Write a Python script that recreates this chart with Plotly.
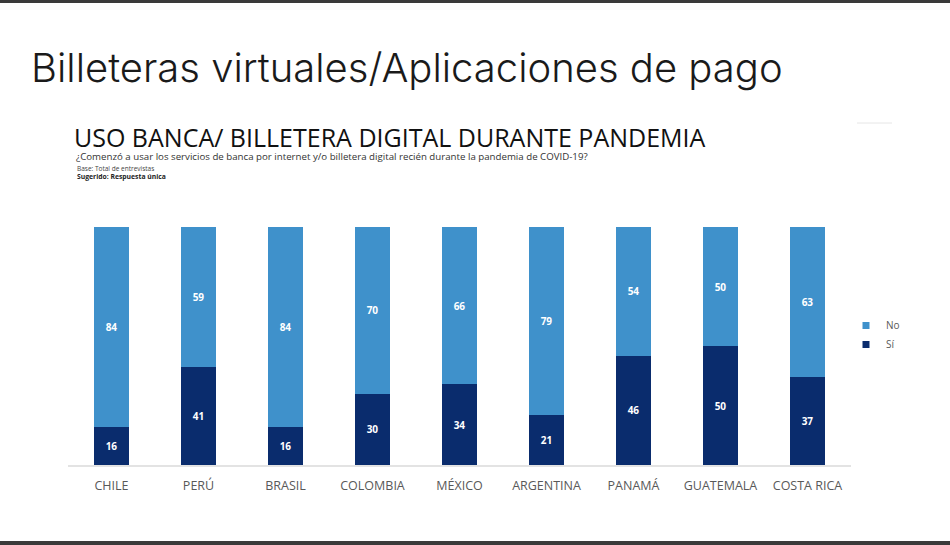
import plotly.graph_objects as go

countries = ["CHILE", "PERÚ", "BRASIL", "COLOMBIA", "MÉXICO", "ARGENTINA", "PANAMÁ", "GUATEMALA", "COSTA RICA"]
si_values = [16, 41, 16, 30, 34, 21, 46, 50, 37]
no_values = [84, 59, 84, 70, 66, 79, 54, 50, 63]
legend_names = ["No", "Sí"]

C_NO = "#3F91CB"
C_SI = "#0A2C6D"

W, H = 950, 545
L, R, T, B = 68, 99, 227, 80
PW, PH = W - L - R, H - T - B

def px(x):
    return (x - L) / PW

def py(y):
    return (H - B - y) / PH

label_font = dict(color="white", size=10, family="Open Sans", weight="bold")

fig = go.Figure()
fig.add_trace(go.Bar(
    x=countries, y=si_values, name="Sí", marker=dict(color=C_SI, line=dict(width=0)),
    text=si_values, textposition="inside", insidetextanchor="middle",
    textfont=label_font, showlegend=False,
))
fig.add_trace(go.Bar(
    x=countries, y=no_values, name="No", marker=dict(color=C_NO, line=dict(width=0)),
    text=no_values, textposition="inside", insidetextanchor="middle",
    textfont=label_font, showlegend=False,
))
# legend entries (small square swatches like the reference)
for name, col in zip(legend_names, [C_NO, C_SI]):
    fig.add_trace(go.Scatter(
        x=[None], y=[None], mode="markers", name=name,
        marker=dict(symbol="square", size=7, color=col), showlegend=True,
    ))

fig.update_layout(
    width=W, height=H,
    barmode="stack", bargap=0.6,
    plot_bgcolor="white", paper_bgcolor="white",
    margin=dict(l=L, r=R, t=T, b=B),
    showlegend=True,
    legend=dict(
        x=px(846), y=py(311), xanchor="left", yanchor="top",
        traceorder="normal", font=dict(family="Open Sans", size=10, color="#595959"),
        itemwidth=30, tracegroupgap=0, bgcolor="rgba(0,0,0,0)",
    ),
    xaxis=dict(
        showgrid=False, showline=True, linecolor="#E3E3E3", linewidth=2,
        ticks="", ticklabelstandoff=8,
        tickfont=dict(family="Open Sans", size=12.5, color="#595959"),
        range=[-0.5, 8.5], fixedrange=True,
    ),
    yaxis=dict(
        range=[0, 100], showgrid=False, showticklabels=False, zeroline=False,
        showline=False, fixedrange=True,
    ),
    font=dict(family="Open Sans"),
)

annotations = [
    dict(text="Billeteras virtuales/Aplicaciones de pago", x=px(29), y=py(68),
         font=dict(family="Inter", size=40, color="#1a1a1a", weight=300)),
    dict(text="USO BANCA/ BILLETERA DIGITAL DURANTE PANDEMIA", x=px(72), y=py(137),
         font=dict(family="Open Sans", size=25, color="#111111")),
    dict(text="¿Comenzó a usar los servicios de banca por internet y/o billetera digital recién durante la pandemia de COVID-19?",
         x=px(74), y=py(156), font=dict(family="Open Sans", size=9.7, color="#333333")),
    dict(text="Base: Total de entrevistas", x=px(75), y=py(168),
         font=dict(family="Open Sans", size=6.5, color="#444444")),
    dict(text="<b>Sugerido: Respuesta única</b>", x=px(75), y=py(176),
         font=dict(family="Open Sans", size=6.8, color="#222222")),
]
for a in annotations:
    a.update(xref="paper", yref="paper", xanchor="left", yanchor="middle", showarrow=False)
    fig.add_annotation(**a)

# slide frame bars (top and bottom) and small decoration
fig.add_shape(type="rect", xref="paper", yref="paper", x0=px(0), x1=px(W), y0=py(0), y1=py(3),
              fillcolor="#3A3A3A", line=dict(width=0), layer="above")
fig.add_shape(type="rect", xref="paper", yref="paper", x0=px(0), x1=px(W), y0=py(541), y1=py(545),
              fillcolor="#3A3A3A", line=dict(width=0), layer="above")
fig.add_shape(type="line", xref="paper", yref="paper", x0=px(857), x1=px(892), y0=py(123), y1=py(123),
              line=dict(color="#E6E6E6", width=1))

fig.write_html("out.html", config={"displayModeBar": False},
               post_script="document.body.style.margin='0';document.body.style.overflow='hidden';")
